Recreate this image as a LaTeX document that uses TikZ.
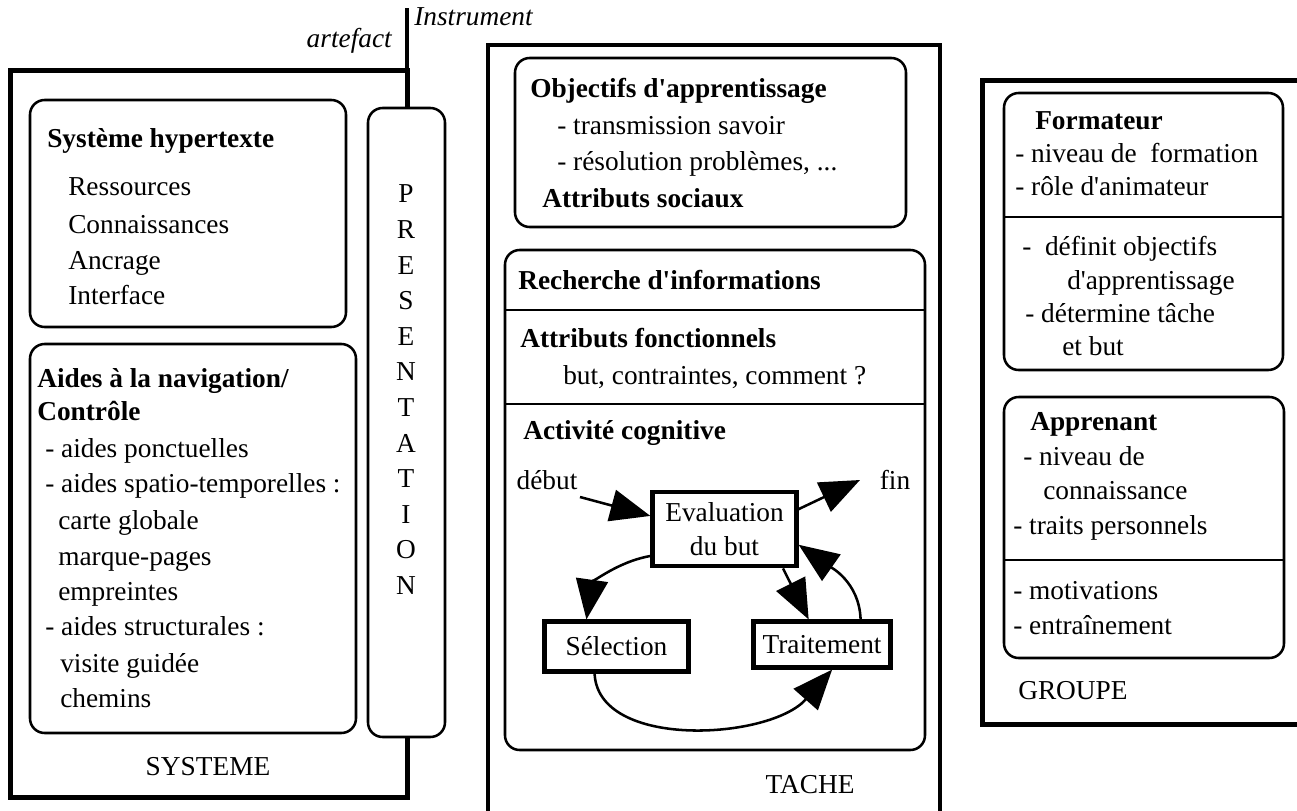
\documentclass[tikz,border=0pt]{standalone}
\usepackage{fontspec}
\setmainfont{Liberation Serif}[Ligatures=TeXOff]
\usetikzlibrary{arrows.meta}
\newcommand{\dfont}{\fontsize{20.5pt}{27pt}\selectfont}
\tikzset{
  txt/.style={anchor=base west, inner sep=0pt, font=\dfont},
  btxt/.style={anchor=base west, inner sep=0pt, font=\dfont\bfseries},
  itxt/.style={inner sep=0pt, font=\dfont\itshape},
  ctxt/.style={anchor=center, inner sep=0pt, font=\dfont},
  outerline/.style={line width=3.75pt},
  tacheline/.style={line width=3pt},
  rbox/.style={line width=1.9pt, rounded corners=11pt},
  divline/.style={line width=2.2pt},
  cyclebox/.style={draw, line width=3.2pt, inner sep=0pt, align=center, font=\fontsize{20.5pt}{26pt}\selectfont},
  arr/.style={line width=1.9pt, -{Triangle[length=30pt,width=24pt]}},
}
\begin{document}
\begin{tikzpicture}[x=0.75pt,y=-0.75pt]
\fill[white] (0,0) rectangle (1297,811);
\useasboundingbox (0,0) rectangle (1297,811);

% ---------------- SYSTEME ----------------
\draw[outerline] (407,108) -- (407,70) -- (10,70) -- (10,797) -- (407,797) -- (407,737);
\draw[line width=3.5pt] (407,8) -- (407,108);
\node[itxt, anchor=base east] (artefact) at (392,47) {artefact};
\node[itxt, anchor=base west] (instrument) at (414,25) {Instrument};

\draw[rbox] (30,100) rectangle (346,327);
\node[btxt] (syshyp) at (47,147) {Système hypertexte};
\node[txt] (res) at (68,195) {Ressources};
\node[txt] (con) at (68,233) {Connaissances};
\node[txt] (anc) at (68,269) {Ancrage};
\node[txt] (int) at (68,304) {Interface};

\draw[rbox] (30,344) rectangle (356,733);
\node[btxt] (aid1) at (37,387) {Aides à la navigation/};
\node[btxt] (aid2) at (37,420) {Contrôle};
\node[txt] (aid3) at (45,457) {- aides ponctuelles};
\node[txt] (aid4) at (45,492) {- aides spatio-temporelles :};
\node[txt] (aid5) at (58,529) {carte globale};
\node[txt] (aid6) at (58,565) {marque-pages};
\node[txt] (aid7) at (58,600) {empreintes};
\node[txt] (aid8) at (45,635) {- aides structurales :};
\node[txt] (aid9) at (60,672) {visite guidée};
\node[txt] (aid10) at (60,707) {chemins};

\node[ctxt] (systeme) at (208,767) {SYSTEME};

\draw[rbox, fill=white] (368,108) rectangle (445,737);
\foreach \l [count=\i] in {P,R,E,S,E,N,T,A,T,I,O,N}
  \node[ctxt] (pres\i) at (406,{194+35.6*(\i-1)}) {\l};

% ---------------- TACHE ----------------
\draw[tacheline] (488,830) -- (488,45) -- (940,45) -- (940,830);

\draw[rbox] (515,58) rectangle (906,227);
\node[btxt] (obj) at (530,97) {Objectifs d'apprentissage};
\node[txt] (obj1) at (557,134) {- transmission savoir};
\node[txt] (obj2) at (557,170) {- résolution problèmes, ...};
\node[btxt] (soc) at (542,207) {Attributs sociaux};

\draw[rbox] (505,250) rectangle (925,750);
\draw[divline] (505,310) -- (925,310);
\draw[divline] (505,404) -- (925,404);
\node[btxt] (rech) at (518,289) {Recherche d'informations};
\node[btxt] (fonc) at (520,347) {Attributs fonctionnels};
\node[txt] (fonc1) at (563,384) {but, contraintes, comment ?};
\node[btxt] (cog) at (523,439) {Activité cognitive};

\node[ctxt] (debut) at (547,480) {début};
\node[ctxt] (fin) at (895,480) {fin};
\node[cyclebox, minimum width=108pt, minimum height=56pt] (eval) at (724.5,529) {Evaluation\\du but};
\node[cyclebox, minimum width=108pt, minimum height=37.4pt] (sel) at (616.5,646.5) {Sélection};
\node[cyclebox, minimum width=102.6pt, minimum height=34.4pt] (trait) at (822,644.5) {Traitement};

\coordinate (dstart) at (580,497);
\coordinate (fintip) at (860,480);
\draw[arr] (dstart) -- (eval.170);
\draw[arr] (eval.15) -- (fintip);
\draw[arr] (eval.200) to[out=190,in=82] (sel.138);
\draw[arr] (eval.-34) -- (trait.118);
\draw[arr] (trait.33) to[out=92,in=-35] (eval.-12);
\draw[arr] (sel.231) .. controls (598,750) and (770,740) .. (trait.-68);

\node[ctxt] (tache) at (810,785) {TACHE};

% ---------------- GROUPE ----------------
\draw[outerline] (1310,80) -- (982,80) -- (982,724) -- (1310,724);

\draw[rbox] (1004,93) rectangle (1283,370);
\draw[divline] (1004,217) -- (1283,217);
\node[btxt] (form) at (1035,129) {Formateur};
\node[txt] (form1) at (1015,162) {- niveau de\ \ formation};
\node[txt] (form2) at (1015,195) {- rôle d'animateur};
\node[txt] (form3) at (1022,255) {-\ \ définit objectifs};
\node[txt] (form4) at (1067,289) {d'apprentissage};
\node[txt] (form5) at (1025,322) {- détermine tâche};
\node[txt] (form6) at (1062,355) {et but};

\draw[rbox] (1004,397) rectangle (1284,658);
\draw[divline] (1004,560) -- (1284,560);
\node[btxt] (app) at (1030,430) {Apprenant};
\node[txt] (app1) at (1023,465) {- niveau de};
\node[txt] (app2) at (1043,499) {connaissance};
\node[txt] (app3) at (1013,534) {- traits personnels};
\node[txt] (app4) at (1013,599) {- motivations};
\node[txt] (app5) at (1013,634) {- entraînement};

\node[anchor=base west, inner sep=0pt, font=\dfont] (groupe) at (1018,699) {GROUPE};
\end{tikzpicture}
\end{document}
